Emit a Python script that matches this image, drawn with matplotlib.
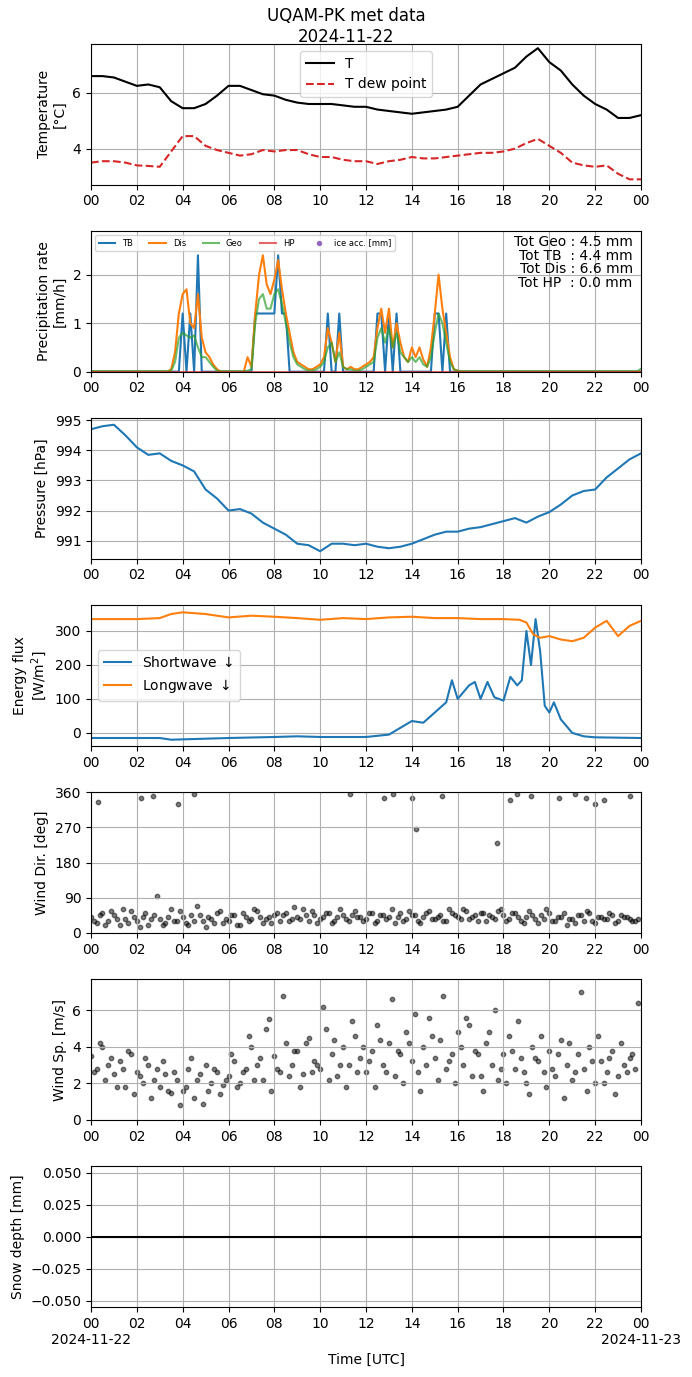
import matplotlib
matplotlib.use("Agg")
import matplotlib.pyplot as plt
import numpy as np

# Temperature (half-hourly)
t_half = np.arange(0, 24.01, 0.5)
T = [6.6,6.6,6.55,6.4,6.25,6.3,6.2,5.7,5.45,5.45,5.6,5.9,6.25,6.25,6.1,5.95,5.9,5.75,5.65,5.6,
     5.6,5.6,5.55,5.5,5.5,5.4,5.35,5.3,5.25,5.3,5.35,5.4,5.5,5.9,6.3,6.5,6.7,6.9,7.3,7.6,
     7.1,6.8,6.3,5.9,5.6,5.4,5.1,5.1,5.2]
Td = [3.5,3.55,3.55,3.5,3.4,3.38,3.35,3.9,4.45,4.45,4.1,3.95,3.85,3.75,3.8,3.95,3.9,3.95,3.95,3.8,
      3.7,3.7,3.6,3.55,3.55,3.45,3.55,3.6,3.7,3.65,3.65,3.7,3.75,3.8,3.85,3.85,3.9,4.0,4.2,4.35,
      4.1,3.85,3.5,3.4,3.35,3.4,3.1,2.9,2.9]
P = [994.7,994.8,994.85,994.5,994.1,993.85,993.9,993.65,993.5,993.3,992.7,992.4,992.0,992.05,991.9,991.6,
     991.4,991.2,990.9,990.85,990.65,990.9,990.9,990.85,990.9,990.8,990.75,990.8,990.9,991.05,991.2,991.3,
     991.3,991.4,991.45,991.55,991.65,991.75,991.6,991.8,991.95,992.2,992.5,992.65,992.7,993.1,993.4,993.7,993.9]

# Precipitation (10-min)
t_10 = np.arange(145) / 6.0
TB = ([0]*21 + [0,0,0,1.2,0,1.2,0,2.4,0,0,0,0,0] + [0]*7 +
      [0,0,1.2,1.2,1.2,1.2,1.2,1.2,2.4,1.2,1.2,0,0,0,0,0,0] +
      [0,0,0,0,1.2,0,0,1.2,0,0,0,0] +
      [0,0,0,0,0,1.2,1.2,0,1.2,0,1.2,0,0,0,0,0,0,0,0,0,1.2,1.2,0,1.2,0,0,0] + [0]*48)
Dis = ([0]*21 + [0.05,0.4,1.2,1.6,1.7,1.0,0.9,1.6,0.7,0.4,0.3,0.15,0.05] + [0]*7 +
       [0.3,0.1,1.2,2.0,2.4,1.8,1.6,1.9,2.3,1.7,1.2,0.8,0.4,0.2,0.15,0.1,0.05] +
       [0.05,0.1,0.15,0.3,0.9,0.6,0.2,0.8,0.1,0.05,0.1,0.05] +
       [0.05,0.1,0.15,0.2,0.3,0.9,1.3,0.8,1.3,0.5,1.0,0.6,0.3,0.2,0.5,0.3,0.5,0.25,0.1,0.5,1.2,2.0,1.3,0.8,0.3,0.05,0.02] + [0]*48)
Geo = ([0.01]*21 + [0.02,0.2,0.7,0.8,0.75,0.7,0.75,0.5,0.3,0.3,0.2,0.1,0.02] + [0.01]*7 +
       [0.02,0.05,1.0,1.5,1.6,1.3,1.3,1.6,1.7,1.4,1.0,0.6,0.3,0.15,0.1,0.05,0.02] +
       [0.02,0.05,0.1,0.2,0.5,0.6,0.2,0.4,0.1,0.05,0.05,0.02] +
       [0.02,0.05,0.1,0.15,0.2,0.7,0.9,0.6,0.9,0.5,0.8,0.4,0.3,0.2,0.3,0.2,0.3,0.15,0.1,0.3,0.8,1.2,1.0,0.6,0.2,0.05,0.02] + [0.01]*47 + [0.06])
HP = [0]*145

# Radiation
t_lw = [0,2,3,3.5,4,5,6,7,8,9,10,11,12,13,14,15,16,17,18,18.7,19,19.3,19.6,20,20.5,21,21.5,22,22.5,23,23.5,24]
LW = [335,335,338,350,355,350,340,345,342,338,333,338,335,340,342,338,338,335,335,333,325,290,280,285,275,270,280,310,330,285,315,330]
t_sw = [0,3,3.5,6,8,9,10,12,13,13.5,14,14.5,15,15.5,15.75,16,16.5,16.75,17,17.3,17.6,18,18.3,18.6,18.8,19,19.2,19.4,19.6,19.8,20,20.2,20.5,21,21.5,22,24]
SW = [-15,-15,-20,-15,-12,-10,-12,-12,-5,15,35,30,60,90,155,100,140,150,100,150,105,95,165,140,155,300,200,335,240,80,60,90,40,0,-10,-13,-15]

# Wind (two interleaved 15-min sets)
t_w = np.arange(96) / 4.0
t_w2 = np.arange(96) / 4.0 + 0.125
WD = [40,25,50,30,45,20,35,55,30,40,20,45,35,25,60,30,40,20,30,45,15,35,50,25,
      30,45,20,40,35,55,25,40,45,30,50,35,40,60,30,45,35,50,25,40,45,30,55,40,
      35,50,30,45,40,25,50,35,45,30,40,55,35,45,30,50,40,60,35,45,50,30,40,55,
      45,35,50,30,40,45,25,35,50,30,40,20,35,45,30,50,25,40,35,45,30,40,35,30]
WD2 = [30,45,20,55,35,60,25,40,15,50,35,95,20,40,30,55,25,45,70,30,40,25,55,35,
       45,20,50,30,60,40,35,25,50,45,30,65,35,45,55,25,40,50,30,60,35,45,40,30,
       50,25,45,35,60,40,30,55,45,25,50,35,40,30,60,45,35,55,40,30,50,45,35,60,
       30,50,40,25,55,35,45,60,30,40,50,35,25,45,55,30,40,35,50,25,45,40,30,35]
t_wo = [0.3,2.2,2.7,3.8,4.5,11.3,12.8,13.2,14.0,14.2,15.3,18.3,18.6,19.2,20.4,21.1,21.6,22.0,22.4,23.5,17.7]
WDo = [335,345,350,330,355,355,345,355,345,265,350,340,355,350,345,355,345,330,340,350,230]
WS = [3.5,2.8,4.0,3.0,2.5,3.2,1.8,3.6,2.6,2.0,3.0,2.2,1.8,2.5,1.5,2.2,1.6,2.8,1.2,2.5,3.0,2.0,2.6,1.9,
      2.4,3.2,2.0,2.8,4.0,3.0,2.2,5.5,3.5,2.6,4.2,3.0,3.8,2.5,4.5,3.2,2.8,5.0,3.6,2.4,4.0,3.0,4.6,3.4,
      2.6,3.8,5.2,3.0,4.2,2.4,3.6,4.8,3.2,2.6,4.0,5.6,3.4,4.4,2.8,3.6,4.8,3.0,5.2,3.8,2.4,4.2,3.0,2.2,
      3.6,4.6,2.8,3.4,2.0,4.0,3.2,2.6,3.8,2.4,4.4,3.0,2.2,3.6,2.8,4.0,2.0,3.2,2.6,3.8,2.4,3.0,3.4,2.8]
WS2 = [2.6,4.2,2.2,3.4,1.8,2.8,3.8,1.4,2.4,3.4,1.2,2.8,3.2,1.6,2.6,0.8,1.8,3.4,2.2,0.9,1.6,2.8,1.4,2.2,
       3.6,1.8,2.6,4.6,2.2,3.4,5.0,1.6,2.8,6.8,2.4,3.8,1.8,4.2,2.6,3.0,6.2,2.2,4.4,3.0,1.8,5.4,2.6,4.0,
       3.2,1.8,4.4,2.6,6.6,3.8,2.0,4.2,5.8,1.6,3.0,4.6,2.2,6.8,3.2,2.0,4.0,5.6,2.4,3.6,1.6,4.8,6.0,2.8,
       2.0,3.8,5.4,2.6,1.4,3.4,4.6,1.8,2.8,3.6,1.2,4.2,2.6,7.0,1.6,3.2,4.6,2.0,3.4,1.4,4.2,2.6,3.6,6.4]
t_snow = [0, 24]
SNOW = [0, 0]

fig, axes = plt.subplots(7, 1, figsize=(6.92, 13.77), dpi=100)
fig.subplots_adjust(left=91/692, right=641/692, top=1-44/1377, bottom=1-1307/1377, hspace=0.33)
fig.suptitle("UQAM-PK met data\n2024-11-22", y=0.995, fontsize=12)

ticks = np.arange(0, 25, 2)
labels = ["%02d" % (h % 24) for h in ticks]
for ax in axes:
    ax.set_xlim(0, 24)
    ax.set_xticks(ticks)
    ax.set_xticklabels(labels)
    ax.grid(True)

ax = axes[0]
ax.plot(t_half, T, color="black", label="T")
ax.plot(t_half, Td, color="tab:red", ls="--", label="T dew point")
ax.set_ylim(2.71, 7.75)
ax.set_ylabel("Temperature\n[°C]")
ax.legend(loc="upper center")

ax = axes[1]
ax.plot(t_10, TB, color="tab:blue", label="TB")
ax.plot(t_10, Dis, color="tab:orange", label="Dis")
ax.plot(t_10, Geo, color="tab:green", alpha=0.7, label="Geo")
ax.plot(t_10, HP, color="tab:red", alpha=0.7, label="HP")
ax.scatter([], [], color="tab:purple", s=8, label="ice acc. [mm]")
ax.set_ylim(0, 2.9)
ax.set_ylabel("Precipitation rate\n[mm/h]")
ax.legend(loc="upper left", ncol=5, fontsize=6)
ax.text(0.985, 0.97, "Tot Geo : 4.5 mm\nTot TB  : 4.4 mm\nTot Dis : 6.6 mm\nTot HP  : 0.0 mm",
        transform=ax.transAxes, ha="right", va="top", fontsize=10, linespacing=0.95)

ax = axes[2]
ax.plot(t_half, P, color="tab:blue")
ax.set_ylim(990.4, 995.07)
ax.set_ylabel("Pressure [hPa]")

ax = axes[3]
ax.plot(t_sw, SW, color="tab:blue", label="Shortwave $\\downarrow$")
ax.plot(t_lw, LW, color="tab:orange", label="Longwave $\\downarrow$")
ax.set_ylim(-38, 376)
ax.set_ylabel("Energy flux\n[W/m$^2$]")
ax.legend(loc="center left", fontsize=10)

ax = axes[4]
ax.scatter(t_w, WD, s=10, color="black", alpha=0.5)
ax.scatter(t_w2, WD2, s=10, color="black", alpha=0.5)
ax.scatter(t_wo, WDo, s=10, color="black", alpha=0.5)
ax.set_ylim(0, 360)
ax.set_yticks([0, 90, 180, 270, 360])
ax.set_ylabel("Wind Dir. [deg]")

ax = axes[5]
ax.scatter(t_w, WS, s=10, color="black", alpha=0.5)
ax.scatter(t_w2, WS2, s=10, color="black", alpha=0.5)
ax.set_ylim(0, 7.7)
ax.set_yticks([0, 2, 4, 6])
ax.set_ylabel("Wind Sp. [m/s]")

ax = axes[6]
ax.plot(t_snow, SNOW, color="black")
ax.set_ylim(-0.055, 0.055)
ax.set_ylabel("Snow depth [mm]")
labels2 = list(labels)
labels2[0] = "00\n2024-11-22"
labels2[-1] = "00\n2024-11-23"
ax.set_xticklabels(labels2)
ax.set_xlabel("Time [UTC]")

fig.savefig("out.png", dpi=100)
